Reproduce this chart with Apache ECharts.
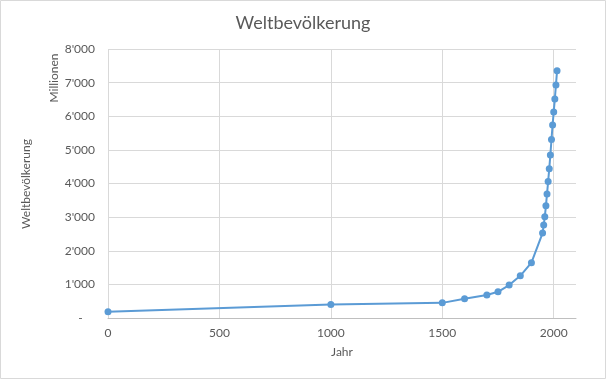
<!DOCTYPE html>
<html><head><meta charset="utf-8">
<script src="https://cdn.jsdelivr.net/npm/echarts@6/dist/echarts.min.js"></script>
<style>html,body{margin:0;padding:0;background:#fff}#c{width:606px;height:379px}</style>
</head><body><div id="c"></div>
<script>
const years = [0, 1000, 1500, 1600, 1700, 1750, 1800, 1850, 1900, 1950, 1955, 1960, 1965, 1970, 1975, 1980, 1985, 1990, 1995, 2000, 2005, 2010, 2015];
const population = [185, 400, 450, 575, 685, 780, 980, 1255, 1645, 2525, 2765, 3010, 3335, 3690, 4060, 4440, 4850, 5310, 5740, 6130, 6515, 6930, 7350];
const xTicks = [0, 500, 1000, 1500, 2000];
const yTicks = [0, 1000, 2000, 3000, 4000, 5000, 6000, 7000, 8000];

const font = 'Lato';
const grey = '#595959';
const chart = echarts.init(document.getElementById('c'));
chart.setOption({
  animation: false,
  title: { text: 'Weltbevölkerung', left: 'center', top: 9,
    textStyle: { fontFamily: font, fontSize: 18, fontWeight: 'normal', color: grey } },
  grid: { left: 108, right: 30, top: 49, bottom: 61 },
  xAxis: {
    type: 'value', min: 0, max: 2100, interval: 500,
    name: 'Jahr', nameLocation: 'middle', nameGap: 28,
    nameTextStyle: { fontFamily: font, fontSize: 12, color: grey },
    axisLine: { show: true, lineStyle: { color: '#bfbfbf', width: 1 } },
    axisTick: { show: false },
    axisLabel: { fontFamily: font, fontSize: 12, color: grey, margin: 9, showMaxLabel: false,
      formatter: v => xTicks.includes(v) ? String(v) : '' },
    splitLine: { show: true, showMaxLine: false, lineStyle: { color: '#d9d9d9', width: 1 } }
  },
  yAxis: {
    type: 'value', min: 0, max: 8000, interval: 1000,
    axisLine: { show: false }, axisTick: { show: false },
    axisLabel: { fontFamily: font, fontSize: 12, color: grey, margin: 13,
      formatter: v => v === 0 ? '-    ' : (yTicks.includes(v) ? String(v).replace(/\B(?=(\d{3})+(?!\d))/g, "'") : '') },
    splitLine: { show: true, lineStyle: { color: '#d9d9d9', width: 1 } }
  },
  graphic: [
    { type: 'text', x: 26, y: 184, rotation: Math.PI / 2,
      style: { text: 'Weltbevölkerung', fill: grey, font: '12px ' + font, align: 'center', verticalAlign: 'middle' } },
    { type: 'text', x: 54, y: 78, rotation: Math.PI / 2,
      style: { text: 'Millionen', fill: grey, font: '12px ' + font, align: 'center', verticalAlign: 'middle' } },
    { type: 'rect', shape: { x: 0.5, y: 0.5, width: 605, height: 378 },
      style: { fill: 'none', stroke: '#d9d9d9', lineWidth: 1 }, silent: true }
  ],
  series: [{
    type: 'line',
    data: years.map((y, i) => [y, population[i]]),
    symbol: 'circle', symbolSize: 7,
    itemStyle: { color: '#5b9bd5' },
    lineStyle: { color: '#5b9bd5', width: 2 }
  }]
});
</script></body></html>
